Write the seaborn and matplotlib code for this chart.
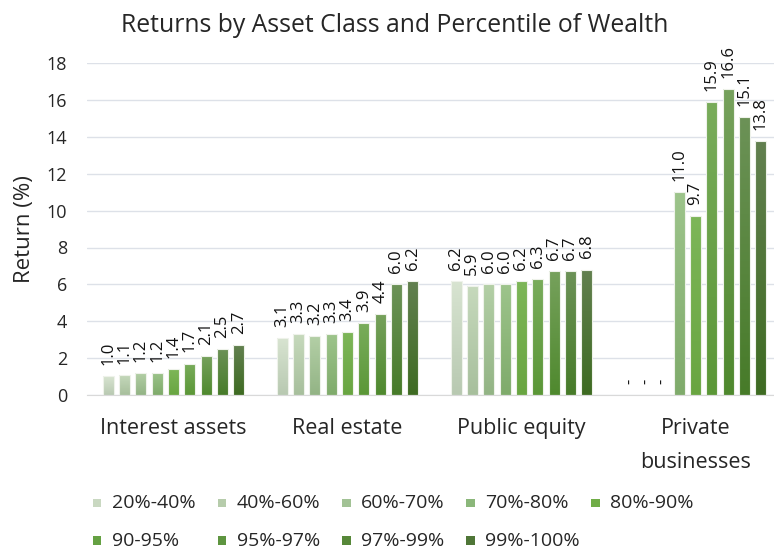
import matplotlib
matplotlib.use("Agg")
import matplotlib.pyplot as plt
import numpy as np
import pandas as pd
import seaborn as sns
from matplotlib.colors import LinearSegmentedColormap
from matplotlib.patches import Rectangle

# Data
asset_classes = ["Interest assets", "Real estate", "Public equity", "Private\nbusinesses"]
percentiles = ["20%-40%", "40%-60%", "60%-70%", "70%-80%", "80%-90%",
               "90-95%", "95%-97%", "97%-99%", "99%-100%"]
interest_assets = [1.0, 1.1, 1.2, 1.2, 1.4, 1.7, 2.1, 2.5, 2.7]
real_estate = [3.1, 3.3, 3.2, 3.3, 3.4, 3.9, 4.4, 6.0, 6.2]
public_equity = [6.2, 5.9, 6.0, 6.0, 6.2, 6.3, 6.7, 6.7, 6.8]
private_businesses = [np.nan, np.nan, np.nan, 11.0, 9.7, 15.9, 16.6, 15.1, 13.8]

# gradient colours per series (top, bottom)
top_colors = ["#d8e4d1", "#c6d9bc", "#b3cfa6", "#9dc48b", "#7db658",
              "#79ac5b", "#76a15c", "#6c9257", "#62804f"]
bottom_colors = ["#b8c9b1", "#a7bf9c", "#93b485", "#7fab6b", "#69a541",
                 "#5b9737", "#4f892e", "#477b29", "#3e6b22"]
mid_colors = ["#c9d8c1", "#b6ccab", "#a2c295", "#8bb77a", "#70ad47",
              "#65a143", "#5e9540", "#578839", "#4f7637"]

rows = []
for cat, vals in zip(asset_classes, [interest_assets, real_estate, public_equity, private_businesses]):
    for p, v in zip(percentiles, vals):
        rows.append({"asset": cat, "pct": p, "ret": v})
df = pd.DataFrame(rows)
df["plot_ret"] = df["ret"].fillna(0)

sns.set_style("white")
plt.rcParams["font.family"] = ["Open Sans", "DejaVu Sans"]

W, H = 774, 550
fig = plt.figure(figsize=(W / 100, H / 100), dpi=100)
ax = fig.add_axes([0.1118, 0.282, 0.899, 0.603])

sns.barplot(data=df, x="asset", y="plot_ret", hue="pct", order=asset_classes,
            hue_order=percentiles, palette=mid_colors, width=0.845, gap=0.33,
            legend=False, ax=ax, edgecolor="#eef2ea", linewidth=0.8)

# gradient fill for every bar
for i, cont in enumerate(ax.containers):
    cmap = LinearSegmentedColormap.from_list(f"g{i}", [bottom_colors[i], top_colors[i]])
    for patch in cont.patches:
        x0, y0 = patch.get_x(), patch.get_y()
        w, h = patch.get_width(), patch.get_height()
        if h <= 0:
            patch.set_visible(False)
            continue
        grad = np.linspace(1, 0, 100).reshape(-1, 1)
        im = ax.imshow(grad, extent=[x0, x0 + w, y0, y0 + h], aspect="auto",
                       cmap=cmap, vmin=0, vmax=1, zorder=patch.get_zorder())
        im.set_clip_path(patch)
        patch.set_facecolor("none")
        patch.set_zorder(patch.get_zorder() + 0.1)

# value labels
all_vals = [interest_assets, real_estate, public_equity, private_businesses]
for i, cont in enumerate(ax.containers):
    labels = []
    for j in range(len(asset_classes)):
        v = all_vals[j][i]
        labels.append("-" if np.isnan(v) else f"{v:.1f}")
    ax.bar_label(cont, labels=labels, rotation=90, padding=8, fontsize=12, color="#111111")

ax.set_xlim(-0.5, 3.5)
ax.set_ylim(0, 18)
ax.set_yticks(range(0, 19, 2))
ax.yaxis.grid(True, color="#dde1e8", linewidth=1)
ax.set_axisbelow(True)
for s in ["top", "right", "left"]:
    ax.spines[s].set_visible(False)
ax.spines["bottom"].set_color("#d9d9d9")
ax.tick_params(axis="both", length=0)
ax.tick_params(axis="y", labelsize=13, pad=14)
ax.tick_params(axis="x", labelsize=15.5, pad=16.5)
for t in ax.get_xticklabels():
    t.set_linespacing(1.8)
ax.set_xlabel("")
ax.set_ylabel("Return (%)", fontsize=16, labelpad=8)
fig.text(395 / W, 1 - 25 / H, "Returns by Asset Class and Percentile of Wealth",
         fontsize=17.8, ha="center", va="center")

# legend laid out row by row, equal column widths
for k, (lab, col) in enumerate(zip(percentiles, mid_colors)):
    r, c = divmod(k, 5)
    x = (93 + c * 124.5) / W
    y = 1 - (503 + r * 37.5) / H
    fig.patches.append(Rectangle((x, y - 4 / H), 8.5 / W, 8.5 / H, facecolor=col,
                                 edgecolor="none", transform=fig.transFigure))
    fig.text(x + 19 / W, y, lab, fontsize=14, ha="left", va="center")

fig.savefig("out.png", dpi=100)
